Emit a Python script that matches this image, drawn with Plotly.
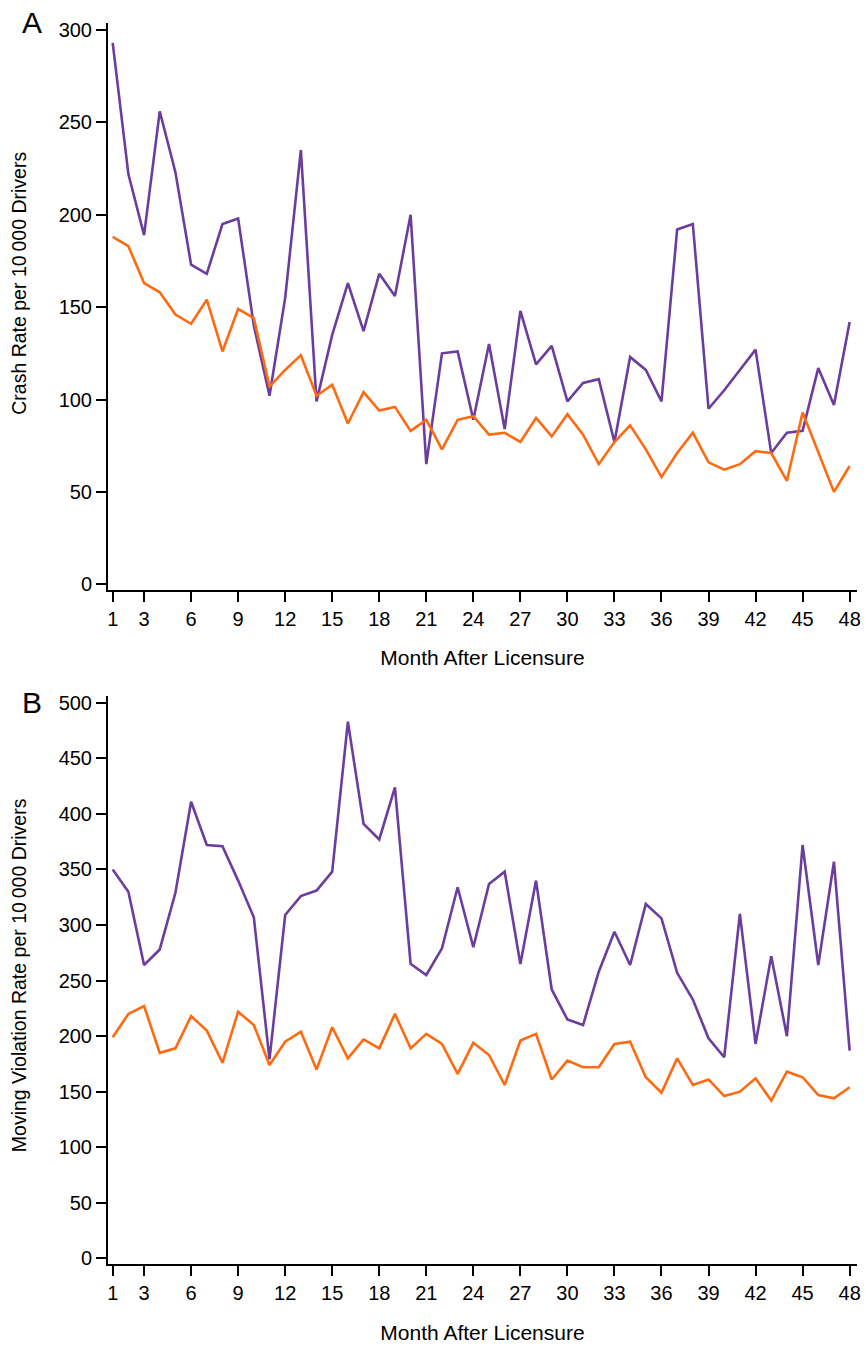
import plotly.graph_objects as go

months = list(range(1, 49))
x_tick_vals = [1, 3, 6, 9, 12, 15, 18, 21, 24, 27, 30, 33, 36, 39, 42, 45, 48]

# Panel A: crash rate per 10 000 drivers
crash_purple = [293, 222, 189, 256, 223, 173, 168, 195, 198, 140,
                102, 155, 235, 99, 135, 163, 137, 168, 156, 200,
                65, 125, 126, 89, 130, 84, 148, 119, 129, 99,
                109, 111, 77, 123, 116, 99, 192, 195, 95, 105,
                116, 127, 71, 82, 83, 117, 97, 142]
crash_orange = [188, 183, 163, 158, 146, 141, 154, 126, 149, 144,
                107, 116, 124, 102, 108, 87, 104, 94, 96, 83,
                89, 73, 89, 91, 81, 82, 77, 90, 80, 92,
                81, 65, 77, 86, 73, 58, 71, 82, 66, 62,
                65, 72, 71, 56, 93, 72, 50, 64]

# Panel B: moving violation rate per 10 000 drivers
viol_purple = [350, 330, 264, 278, 329, 411, 372, 371, 340, 307,
               179, 309, 326, 331, 348, 483, 391, 377, 424, 265,
               255, 279, 334, 280, 337, 348, 265, 340, 242, 215,
               210, 258, 294, 264, 319, 306, 257, 233, 198, 181,
               310, 193, 272, 200, 372, 264, 357, 187]
viol_orange = [199, 220, 227, 185, 189, 218, 205, 176, 222, 210,
               174, 195, 204, 170, 208, 180, 197, 189, 220, 189,
               202, 193, 166, 194, 183, 156, 196, 202, 161, 178,
               172, 172, 193, 195, 163, 149, 180, 156, 161, 146,
               150, 162, 142, 168, 163, 147, 144, 154]

crash_ticks = [0, 50, 100, 150, 200, 250, 300]
viol_ticks = [0, 50, 100, 150, 200, 250, 300, 350, 400, 450, 500]

crash_title = "Crash Rate per 10\u2009000 Drivers"
viol_title = "Moving Violation Rate per 10\u2009000 Drivers"
x_title = "Month After Licensure"

PURPLE = "#6a3d9e"
ORANGE = "#ff6a10"
FONT = "Liberation Sans, Arial, sans-serif"

W, H = 865, 1345
ML, MR, MT, MB = 108, 4, 23, 80

fig = go.Figure()
for xa, ya, vals, col in [("x", "y", crash_purple, PURPLE), ("x", "y", crash_orange, ORANGE),
                          ("x2", "y2", viol_purple, PURPLE), ("x2", "y2", viol_orange, ORANGE)]:
    fig.add_trace(go.Scatter(x=months, y=vals, mode="lines",
                             line=dict(color=col, width=2.6), xaxis=xa, yaxis=ya,
                             showlegend=False))

xaxis_common = dict(
    range=[0.70, 48.47], tickmode="array", tickvals=x_tick_vals,
    ticktext=[str(v) for v in x_tick_vals],
    showline=True, linecolor="black", linewidth=2, mirror=False,
    ticks="outside", ticklen=10, tickwidth=2, tickcolor="black",
    showgrid=False, zeroline=False,
    tickfont=dict(family=FONT, size=20, color="black"),
    title=dict(text=x_title, standoff=22,
               font=dict(family=FONT, size=21, color="black")),
)
yaxis_common = dict(
    showline=True, linecolor="black", linewidth=2, mirror=False,
    ticks="outside", ticklen=10, tickwidth=2, tickcolor="black",
    showgrid=False, zeroline=False,
    tickfont=dict(family=FONT, size=20, color="black"),
)


def px_to_paper(px, py):
    plot_w = W - ML - MR
    plot_h = H - MT - MB
    return (px - ML) / plot_w, (H - MB - py) / plot_h


ax, ay = px_to_paper(32, 22)
bx, by = px_to_paper(32, 703)
tax, tay = px_to_paper(18.5, 283)
tbx, tby = px_to_paper(18.5, 976)

fig.update_layout(
    width=W, height=H,
    margin=dict(l=ML, r=MR, t=MT, b=MB),
    plot_bgcolor="white", paper_bgcolor="white",
    font=dict(family=FONT, color="black"),
    xaxis=dict(domain=[0, 1], anchor="y", **xaxis_common),
    yaxis=dict(domain=[0.5435, 1.0], anchor="x", range=[-2.86, 303.8],
               tickmode="array", tickvals=crash_ticks,
               ticktext=[str(v) for v in crash_ticks], **yaxis_common),
    xaxis2=dict(domain=[0, 1], anchor="y2", **xaxis_common),
    yaxis2=dict(domain=[0, 0.4573], anchor="x2", range=[-5.1, 505.7],
                tickmode="array", tickvals=viol_ticks,
                ticktext=[str(v) for v in viol_ticks], **yaxis_common),
    annotations=[
        dict(text="A", x=ax, y=ay, xref="paper", yref="paper", showarrow=False,
             xanchor="center", yanchor="middle",
             font=dict(family=FONT, size=30, color="black")),
        dict(text="B", x=bx, y=by, xref="paper", yref="paper", showarrow=False,
             xanchor="center", yanchor="middle",
             font=dict(family=FONT, size=30, color="black")),
        dict(text=crash_title, x=tax, y=tay, xref="paper", yref="paper", showarrow=False,
             textangle=-90, xanchor="center", yanchor="middle",
             font=dict(family=FONT, size=19.5, color="black")),
        dict(text=viol_title, x=tbx, y=tby, xref="paper", yref="paper", showarrow=False,
             textangle=-90, xanchor="center", yanchor="middle",
             font=dict(family=FONT, size=19.5, color="black")),
    ],
)

fig.write_html("out.html", config={"displayModeBar": False},
               post_script="document.body.style.margin='0';")
